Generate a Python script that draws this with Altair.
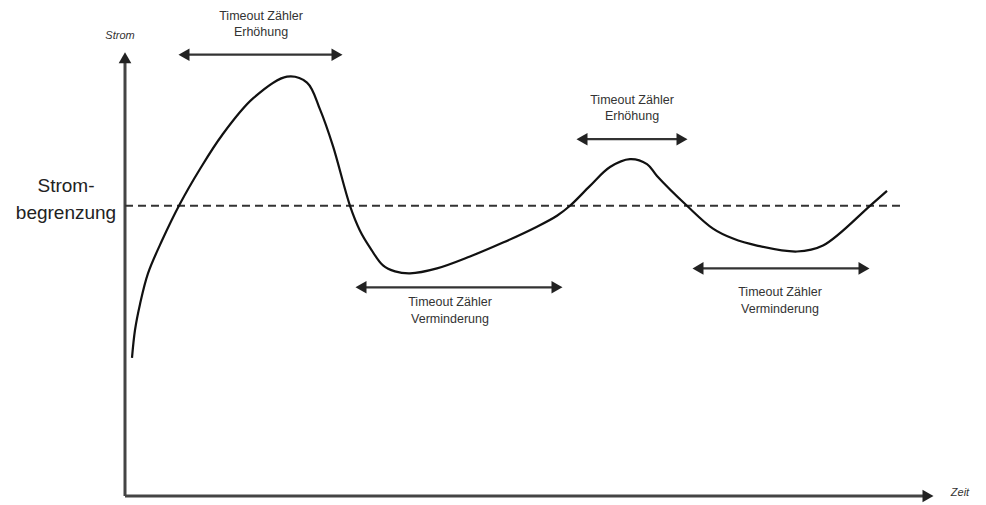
import altair as alt
import pandas as pd

# Schematic units: time (Zeit) and current (Strom), origin at the axes' crossing
curve_t = [7, 10, 15, 23, 37, 55, 75, 97, 128, 162, 182, 195, 208, 225, 235, 245, 258, 270, 285,
           312, 345, 378, 412, 432, 445, 465, 485, 505, 522, 532, 562, 588, 608, 632, 672, 698, 745, 762]
curve_i = [139, 167, 193, 224, 257, 294, 329, 363, 400, 422, 416, 389, 352, 292, 267, 250, 232, 226, 224,
           229, 241, 255, 271, 282, 292, 312, 331, 339, 334, 322, 292, 269, 259, 252, 246, 252, 292, 307]

limit_level = 292
limit_end = 777
limit_label = ["Strom-", "begrenzung"]
limit_label_t = -59
limit_label_i = [312, 285]

arrow_start = [53, 451, 230, 567]
arrow_end = [218, 563, 438, 745]
arrow_i = [444, 359, 210, 229]
label_line1 = ["Timeout Zähler", "Timeout Zähler", "Timeout Zähler", "Timeout Zähler"]
label_line2 = ["Erhöhung", "Erhöhung", "Verminderung", "Verminderung"]
label_t = [136, 507, 325, 655]
label_i1 = [483, 398, 195, 205]
label_i2 = [467, 382, 178, 188]

axis_t_end = 803
axis_i_end = 441
axis_names = ["Strom", "Zeit"]
axis_name_t = [-5, 835]
axis_name_i = [463, 3]

head = 6

xs = alt.Scale(domain=[-117, 853], nice=False, zero=False)
ys = alt.Scale(domain=[-4, 491], nice=False, zero=False)

curve_df = pd.DataFrame({"t": curve_t, "i": curve_i})
curve = alt.Chart(curve_df).mark_line(color="#111111", strokeWidth=2.2, interpolate="catmull-rom").encode(
    x=alt.X("t:Q", scale=xs, axis=None),
    y=alt.Y("i:Q", scale=ys, axis=None),
)

limit_df = pd.DataFrame({"t": [0], "t2": [limit_end], "i": [limit_level]})
limit = alt.Chart(limit_df).mark_rule(color="#333333", strokeWidth=2, strokeDash=[8, 5]).encode(
    x=alt.X("t:Q", scale=xs, axis=None), x2="t2:Q", y=alt.Y("i:Q", scale=ys, axis=None)
)

limit_text_df = pd.DataFrame({"t": [limit_label_t] * 2, "i": limit_label_i, "txt": limit_label})
limit_text = alt.Chart(limit_text_df).mark_text(
    font="Liberation Sans", fontSize=19, color="#222222", align="center", baseline="middle"
).encode(x=alt.X("t:Q", scale=xs, axis=None), y=alt.Y("i:Q", scale=ys, axis=None), text="txt:N")

arrow_df = pd.DataFrame({"t": [s + head for s in arrow_start], "t2": [e - head for e in arrow_end], "i": arrow_i})
arrows = alt.Chart(arrow_df).mark_rule(color="#333333", strokeWidth=2.2).encode(
    x=alt.X("t:Q", scale=xs, axis=None), x2="t2:Q", y=alt.Y("i:Q", scale=ys, axis=None)
)

heads_rows = []
for s, e, y in zip(arrow_start, arrow_end, arrow_i):
    heads_rows.append({"t": s + head, "i": y, "shape": "triangle-left"})
    heads_rows.append({"t": e - head, "i": y, "shape": "triangle-right"})
heads_rows.append({"t": 0, "i": axis_i_end, "shape": "triangle-up"})
heads_rows.append({"t": axis_t_end, "i": 0, "shape": "triangle-right"})
heads_df = pd.DataFrame(heads_rows)
heads = alt.Chart(heads_df).mark_point(filled=True, opacity=1, size=160, color="#222222").encode(
    x=alt.X("t:Q", scale=xs, axis=None), y=alt.Y("i:Q", scale=ys, axis=None),
    shape=alt.Shape("shape:N", scale=None),
)

labels_df = pd.DataFrame({
    "t": label_t * 2,
    "i": label_i1 + label_i2,
    "txt": label_line1 + label_line2,
})
labels = alt.Chart(labels_df).mark_text(
    font="Liberation Sans", fontSize=12.5, color="#333333", align="center", baseline="middle"
).encode(x=alt.X("t:Q", scale=xs, axis=None), y=alt.Y("i:Q", scale=ys, axis=None), text="txt:N")

axes_df = pd.DataFrame({"t": [0, 0], "t2": [0, axis_t_end], "i": [0, 0], "i2": [axis_i_end, 0]})
axes = alt.Chart(axes_df).mark_rule(color="#444444", strokeWidth=3).encode(
    x=alt.X("t:Q", scale=xs, axis=None), x2="t2:Q",
    y=alt.Y("i:Q", scale=ys, axis=None), y2="i2:Q",
)

names_df = pd.DataFrame({"t": axis_name_t, "i": axis_name_i, "txt": axis_names})
names = alt.Chart(names_df).mark_text(
    font="Liberation Sans", fontSize=11, fontStyle="italic", color="#333333", align="center", baseline="middle"
).encode(x=alt.X("t:Q", scale=xs, axis=None), y=alt.Y("i:Q", scale=ys, axis=None), text="txt:N")

chart = alt.layer(axes, limit, curve, arrows, heads, labels, limit_text, names).properties(
    width=970, height=495, padding=0, background="white",
    autosize=alt.AutoSizeParams(type="fit", contains="padding"),
).configure_view(stroke=None, strokeWidth=0)

chart.save("out.html", embed_options={"renderer": "svg", "actions": False})
